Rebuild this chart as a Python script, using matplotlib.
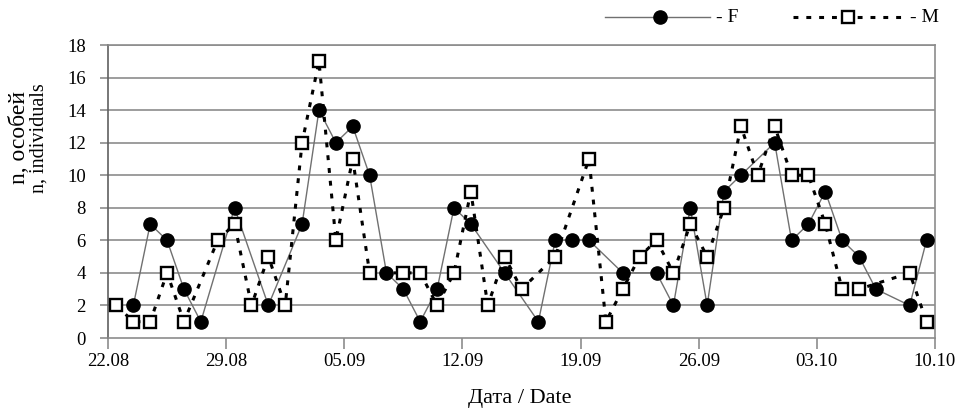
import numpy as np
import matplotlib
matplotlib.use("Agg")
import matplotlib.pyplot as plt
from matplotlib.lines import Line2D

plt.rcParams['font.family'] = ['Liberation Serif', 'DejaVu Serif']

# day index from 22.08, one slot per day
days = np.arange(49)
nan = np.nan
F = [nan, 2, 7, 6, 3, 1, nan, 8, nan, 2,
     nan, 7, 14, 12, 13, 10, 4, 3, 1, 3,
     8, 7, nan, 4, nan, 1, 6, 6, 6, nan,
     4, nan, 4, 2, 8, 2, 9, 10, nan, 12,
     6, 7, 9, 6, 5, 3, nan, 2, 6]
M = [2, 1, 1, 4, 1, nan, 6, 7, 2, 5,
     2, 12, 17, 6, 11, 4, nan, 4, 4, 2,
     4, 9, 2, 5, 3, nan, 5, nan, 11, 1,
     3, 5, 6, 4, 7, 5, 8, 13, 10, 13,
     10, 10, 7, 3, 3, nan, nan, 4, 1]
tick_days = [0, 7, 14, 21, 28, 35, 42, 49]
tick_labels = ['22.08', '29.08', '05.09', '12.09', '19.09', '26.09', '03.10', '10.10']
y_ticks = list(range(0, 19, 2))

F = np.array(F, dtype=float)
M = np.array(M, dtype=float)
x = days + 0.5

fig = plt.figure(figsize=(9.61, 4.11), dpi=100)
ax = fig.add_axes([108/961, 73/411, (935-108)/961, (338-45)/411])

grid_c = '#8c8c8c'
for v in y_ticks[1:]:
    ax.axhline(v, color=grid_c, lw=1.2, zorder=1)

okf = ~np.isnan(F)
okm = ~np.isnan(M)
ax.plot(x[okf], F[okf], '-', color='#707070', lw=1.0, zorder=2)
ax.plot(x[okf], F[okf], 'o', color='black', ms=9.5, zorder=3)
ax.plot(x[okm], M[okm], color='black', lw=2.2, ls=(0, (1.6, 2.6)), zorder=4)
ax.plot(x[okm], M[okm], 's', mfc='white', mec='black', mew=1.7, ms=8, zorder=5)

ax.set_xlim(0, 49)
ax.set_ylim(0, 18)
ax.set_xticks(tick_days)
ax.set_xticklabels(tick_labels)
ax.set_yticks(y_ticks)
ax.tick_params(axis='both', labelsize=13.5, color=grid_c, width=1.2, length=6, direction='out')
ax.tick_params(axis='x', length=8, pad=3)
ax.tick_params(axis='y', pad=10)
for s in ax.spines.values():
    s.set_color(grid_c)
    s.set_linewidth(1.2)
ax.spines['left'].set_color('#606060')

fig.text(20/961, 1 - 137/411, 'n, особей', rotation=90, fontsize=17,
         ha='center', va='center')
fig.text(39/961, 1 - 138/411, 'n, individuals', rotation=90, fontsize=14.5,
         ha='center', va='center')
fig.text(520/961, 1 - 398/411, 'Дата / Date', fontsize=16, ha='center', va='center')

# legend drawn by hand at the top right
leg_y = 1 - 17/411
fig.add_artist(Line2D([605/961, 710/961], [leg_y, leg_y], color='#707070', lw=1.0))
fig.add_artist(Line2D([660/961], [leg_y], marker='o', color='black', ms=9.5))
fig.text(716/961, leg_y, '- F', fontsize=14, ha='left', va='center')
fig.add_artist(Line2D([793/961, 908/961], [leg_y, leg_y], color='black', lw=2.2,
                      ls=(0, (1.6, 2.6))))
fig.add_artist(Line2D([848/961], [leg_y], marker='s', mfc='white', mec='black',
                      mew=1.7, ms=8))
fig.text(910/961, leg_y, '- M', fontsize=14, ha='left', va='center')

fig.savefig('out.png', dpi=100)
